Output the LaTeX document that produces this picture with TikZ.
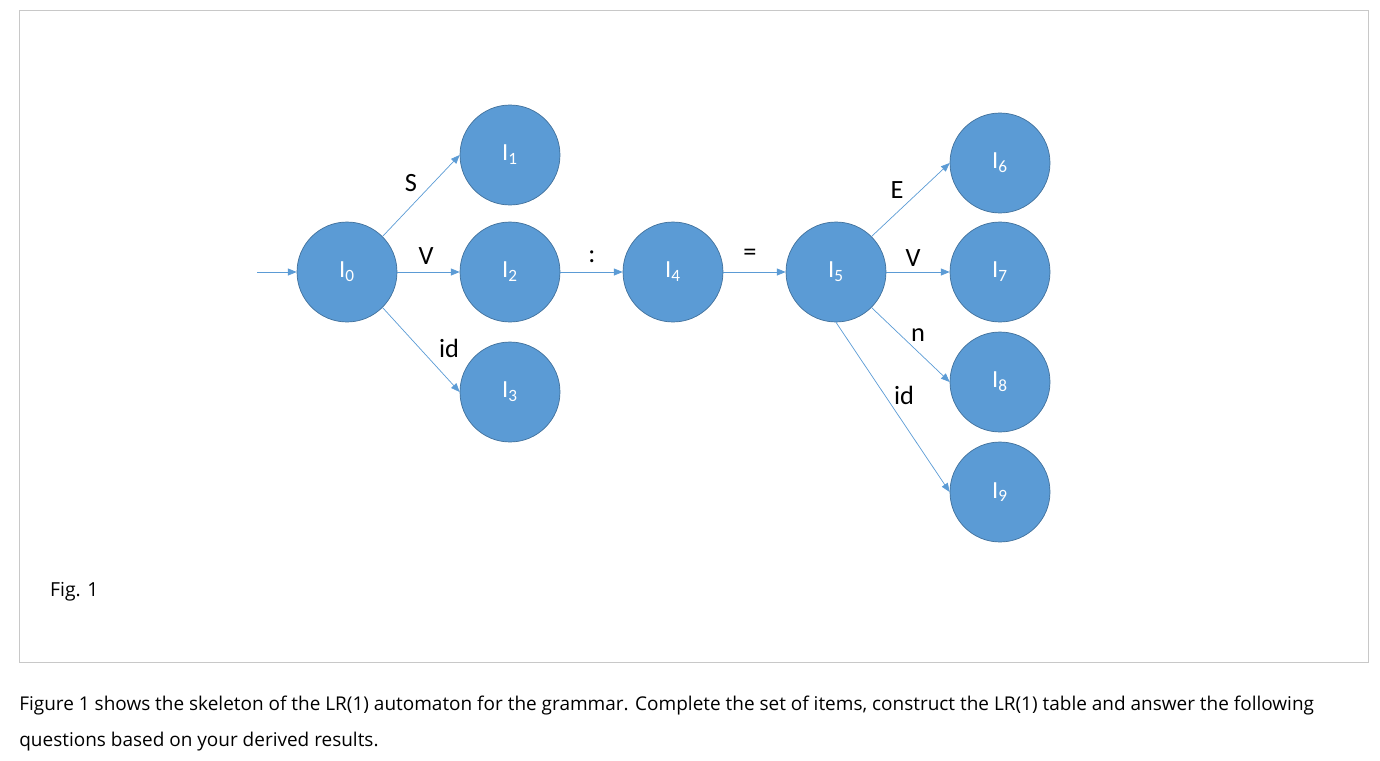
\documentclass[tikz,border=0pt]{standalone}
\usepackage{fontspec}
\setmainfont{Open Sans}
\newfontfamily\calfont{Carlito}
\usetikzlibrary{arrows.meta}
\definecolor{nodeblue}{HTML}{5B9BD5}
\definecolor{nodeedge}{HTML}{41719C}
\definecolor{frame}{HTML}{C8C8C8}
\begin{document}
\begin{tikzpicture}[x=0.02cm, y=-0.02cm]

\tikzset{state/.style={circle, fill=nodeblue, draw=nodeedge, minimum size=2cm, inner sep=0pt, text=white, font=\calfont\fontsize{14}{16}\selectfont}}
\tikzset{trans/.style={draw=nodeblue, -{Triangle[length=5pt, width=4pt]}}}
\tikzset{lbl/.style={font=\calfont\fontsize{15}{17}\selectfont}}

\useasboundingbox (0,0) rectangle (1380,761);

% frame
\draw[frame] (19,10) rectangle (1368,662);

% states
\node[state] at ( 347, 272) (i0) {I\textsubscript{0}};
\node[state] at ( 510, 155) (i1) {I\textsubscript{1}};
\node[state] at ( 510, 272) (i2) {I\textsubscript{2}};
\node[state] at ( 510, 392) (i3) {I\textsubscript{3}};
\node[state] at ( 673, 272) (i4) {I\textsubscript{4}};
\node[state] at ( 836, 272) (i5) {I\textsubscript{5}};
\node[state] at (1000, 163) (i6) {I\textsubscript{6}};
\node[state] at (1000, 272) (i7) {I\textsubscript{7}};
\node[state] at (1000, 382) (i8) {I\textsubscript{8}};
\node[state] at (1000, 492) (i9) {I\textsubscript{9}};
\coordinate (start) at (257, 272);

% transitions
\draw[trans] (start) -- (i0);
\draw[trans] (i0.45) -- (i1.west);
\draw[trans] (i0) -- (i2);
\draw[trans] (i0.-45) -- (i3.west);
\draw[trans] (i2) -- (i4);
\draw[trans] (i4) -- (i5);
\draw[trans] (i5.45) -- (i6.west);
\draw[trans] (i5) -- (i7);
\draw[trans] (i5.-45) -- (i8.west);
\draw[trans] (i5.south) -- (i9.west);

% labels
\node[lbl] at (411, 183) (ls) {S};
\node[lbl] at (426, 256) (lv) {V};
\node[lbl] at (449, 348) (lid) {id};
\node[lbl] at (592, 257) (lcolon) {:};
\node[lbl] at (750, 255) (leq) {=};
\node[lbl] at (897, 190) (le) {E};
\node[lbl] at (913, 258) (lv2) {V};
\node[lbl] at (918, 335) (ln) {n};
\node[lbl] at (904, 395) (lid2) {id};

% caption
\node[anchor=west, font=\fontsize{11}{13}\selectfont] at (44, 592) (fig) {Fig. 1};
\node[anchor=north west, align=left, inner sep=0pt, font=\fontsize{10.8}{20}\selectfont] at (19, 696) (cap) {Figure 1 shows the skeleton of the LR(1) automaton for the grammar. Complete the set of items, construct the LR(1) table and answer the following\\questions based on your derived results.};

\end{tikzpicture}
\end{document}
